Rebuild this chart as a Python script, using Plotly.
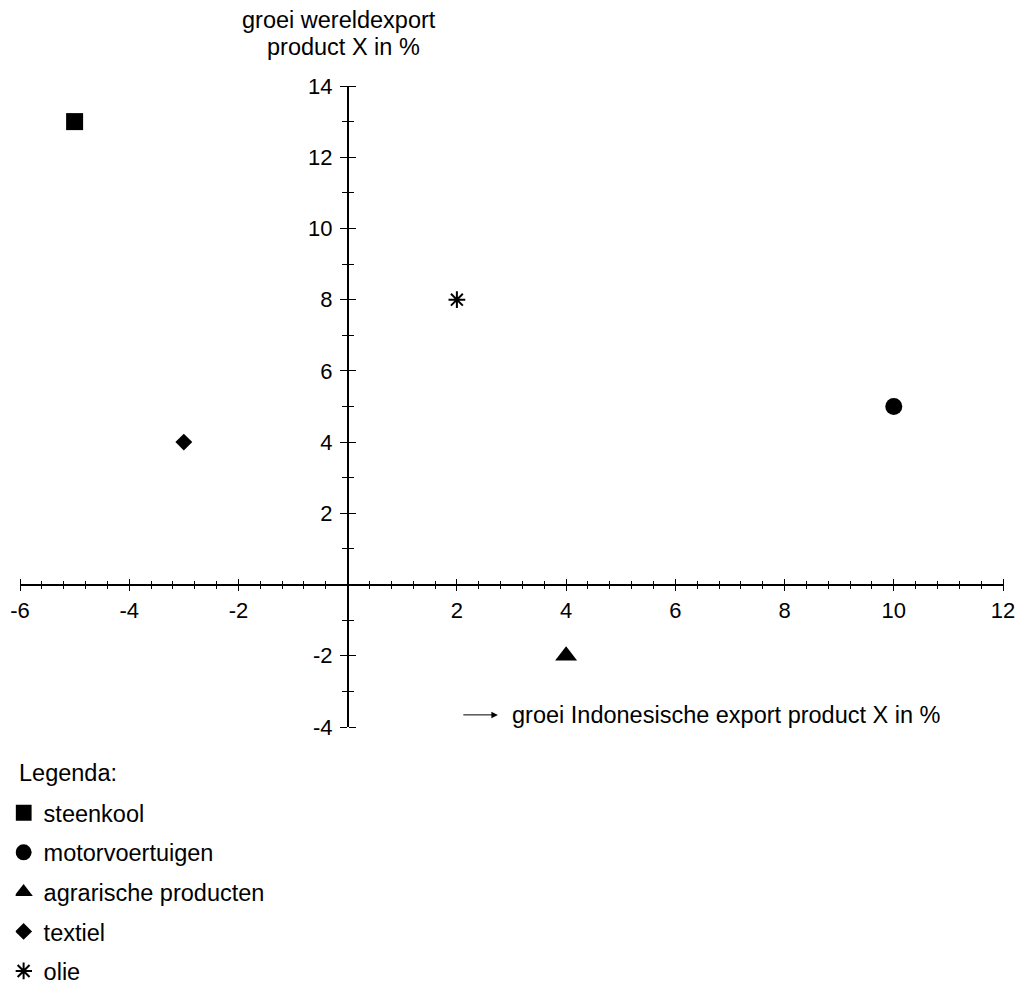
import plotly.graph_objects as go

# ---- data ----
categories = ["steenkool", "motorvoertuigen", "agrarische producten", "textiel", "olie"]
growth_indonesia = [-5, 10, 4, -3, 2]     # x: groei Indonesische export product X in %
growth_world = [13, 5, -2, 4, 8]          # y: groei wereldexport product X in %
x_tick_vals = [-6, -4, -2, 0, 2, 4, 6, 8, 10, 12]
x_tick_text = ["-6", "-4", "-2", "", "2", "4", "6", "8", "10", "12"]
y_tick_vals = [-4, -2, 0, 2, 4, 6, 8, 10, 12, 14]
y_tick_text = ["-4", "-2", "", "2", "4", "6", "8", "10", "12", "14"]
y_title_lines = ["groei wereldexport", "product X in %"]
x_title = "groei Indonesische export product X in %"
legend_title = "Legenda:"

# ---- styles ----
symbols = ["square", "circle", "triangle-up", "diamond", "asterisk-open"]
sizes = [17, 17, 19, 13, 14]
FONT = "Liberation Sans, Arial, sans-serif"
FS = 23.5
TFS = 22
X_RANGE = [-6, 12]
Y_RANGE = [-4, 14]
W, H = 1016, 985
M = dict(l=20.4, r=13, t=86, b=258, autoexpand=False)
plot_w = W - M["l"] - M["r"]
plot_h = H - M["t"] - M["b"]
x_axis_pos = (0 - Y_RANGE[0]) / (Y_RANGE[1] - Y_RANGE[0])
y_axis_pos = (0 - X_RANGE[0]) / (X_RANGE[1] - X_RANGE[0])


def paper_y(page_y):
    return (H - page_y - M["b"]) / plot_h


def paper_x(page_x):
    return (page_x - M["l"]) / plot_w


fig = go.Figure()
for cat, xv, yv, sym, sz in zip(categories, growth_indonesia, growth_world, symbols, sizes):
    fig.add_trace(go.Scatter(
        x=[xv], y=[yv], mode="markers", name=cat, legendgroup=cat,
        xaxis="x2", yaxis="y2",
        marker=dict(symbol=sym, size=sz, color="black",
                    line=dict(color="black", width=2 if "asterisk" in sym else 0)),
    ))

common = dict(showgrid=False, zeroline=False, tickcolor="black", tickwidth=1.4,
              automargin=False, fixedrange=True, ticklabeloverflow="allow")
xminor = dict(ticks="outside", ticklen=4, tickwidth=1.2, tickcolor="black",
              tickmode="linear", tick0=0, dtick=0.4, showgrid=False)
yminor = dict(ticks="outside", ticklen=5, tickwidth=1.2, tickcolor="black",
              tickmode="linear", tick0=0, dtick=1, showgrid=False)

fig.update_layout(
    width=W, height=H,
    margin=M,
    plot_bgcolor="white", paper_bgcolor="white",
    font=dict(family=FONT, size=FS, color="black"),
    xaxis=dict(range=X_RANGE, anchor="free", position=x_axis_pos,
               showline=True, linecolor="black", linewidth=1.5,
               ticks="outside", ticklen=6, tickmode="array",
               tickvals=x_tick_vals, ticktext=x_tick_text,
               tickfont=dict(family=FONT, size=TFS), minor=xminor, **common),
    xaxis2=dict(range=X_RANGE, overlaying="x", anchor="free", position=x_axis_pos,
                side="top", showline=False, ticks="outside", ticklen=6,
                tickmode="array", tickvals=x_tick_vals, showticklabels=False,
                minor=xminor, **common),
    yaxis=dict(range=Y_RANGE, anchor="free", position=y_axis_pos,
               showline=True, linecolor="black", linewidth=1.5,
               ticks="outside", ticklen=7, tickmode="array",
               tickvals=y_tick_vals, ticktext=y_tick_text, ticklabelstandoff=3,
               tickfont=dict(family=FONT, size=TFS), minor=yminor, **common),
    yaxis2=dict(range=Y_RANGE, overlaying="y", anchor="free", position=y_axis_pos,
                side="right", showline=False, ticks="outside", ticklen=7,
                tickmode="array", tickvals=y_tick_vals, showticklabels=False,
                minor=yminor, **common),
    showlegend=True,
    legend=dict(font=dict(family=FONT, size=FS),
                x=paper_x(16), xanchor="left",
                y=paper_y(791), yanchor="top",
                indentation=-12, tracegroupgap=6, bgcolor="rgba(0,0,0,0)"),
    annotations=[
        dict(text=y_title_lines[0], xref="paper", x=paper_x(339), xanchor="center",
             yref="paper", y=paper_y(20), yanchor="middle",
             showarrow=False, font=dict(family=FONT, size=FS)),
        dict(text=y_title_lines[1], xref="paper", x=paper_x(344), xanchor="center",
             yref="paper", y=paper_y(47), yanchor="middle",
             showarrow=False, font=dict(family=FONT, size=FS)),
        dict(text="", xref="x", yref="y", x=2.75, y=-3.66, ax=-36, ay=0,
             showarrow=True, arrowhead=2, arrowsize=1.3, arrowwidth=1, arrowcolor="black"),
        dict(text=x_title, xref="x", yref="y",
             x=2.967, y=-3.66, xanchor="left", yanchor="middle", showarrow=False,
             font=dict(family=FONT, size=FS)),
        dict(text=legend_title, xref="paper", x=paper_x(17), xanchor="left",
             yref="paper", y=paper_y(773), yanchor="middle",
             showarrow=False, font=dict(family=FONT, size=FS)),
    ],
)

fig.write_html("out.html", config={"displayModeBar": False},
               post_script="document.body.style.margin='0px';document.body.style.overflow='hidden';")
